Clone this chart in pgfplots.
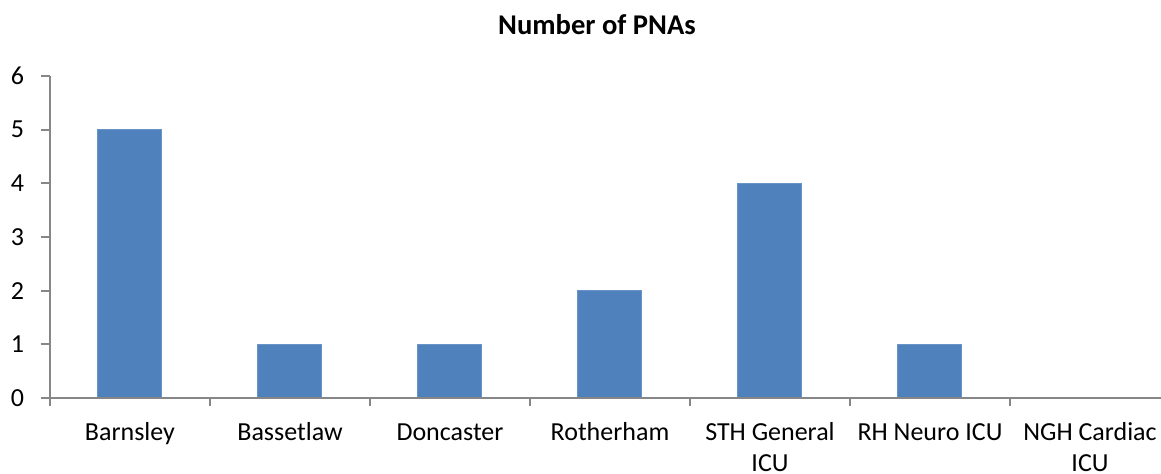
\documentclass[border=0pt]{standalone}
\usepackage{pgfplots}
\pgfplotsset{compat=1.18}
\usepackage{fontspec}
\setmainfont{Carlito}
\definecolor{barblue}{HTML}{4F81BD}
\definecolor{axgray}{HTML}{878787}
\begin{document}
\begin{tikzpicture}
\useasboundingbox (0,0) rectangle (580.5pt,236.5pt);
\node[font=\fontsize{14.3}{16}\selectfont\bfseries] at (298.5pt,224pt) {Number of PNAs};
\begin{axis}[
  at={(25pt,37.5pt)}, anchor=south west,
  scale only axis, width=560pt, height=161pt,
  xmin=-0.5, xmax=6.5, ymin=0, ymax=6,
  axis on top,
  axis x line*=bottom, axis y line*=left,
  axis line style={axgray, line width=0.9pt},
  xtick={0,...,6},
  xticklabels={\strut Barnsley,\strut Bassetlaw,\strut Doncaster,\strut Rotherham,{\strut STH General\\ICU},{\strut RH Neuro ICU},{\strut NGH Cardiac\\ICU}},
  xticklabel style={align=center, font=\fontsize{13}{15.5}\selectfont, text=black, yshift=-2.5pt},
  major x tick style={draw=none},
  minor xtick={-0.5,0.5,...,6.5},
  minor tick length=4pt,
  minor x tick style={axgray, line width=0.9pt},
  ytick={0,...,6},
  yticklabel style={font=\fontsize{13}{15}\selectfont, text=black, xshift=-5pt},
  /pgf/number format/assume math mode=true,
  major tick length=4.5pt,
  y tick style={axgray, line width=0.9pt},
  tick align=outside,
  tick pos=left,
  ybar, bar width=32pt,
]
\addplot[fill=barblue, draw=barblue!85!white, line width=0.5pt] coordinates {(0,5) (1,1) (2,1) (3,2) (4,4) (5,1) (6,0)};
\end{axis}
\end{tikzpicture}
\end{document}
